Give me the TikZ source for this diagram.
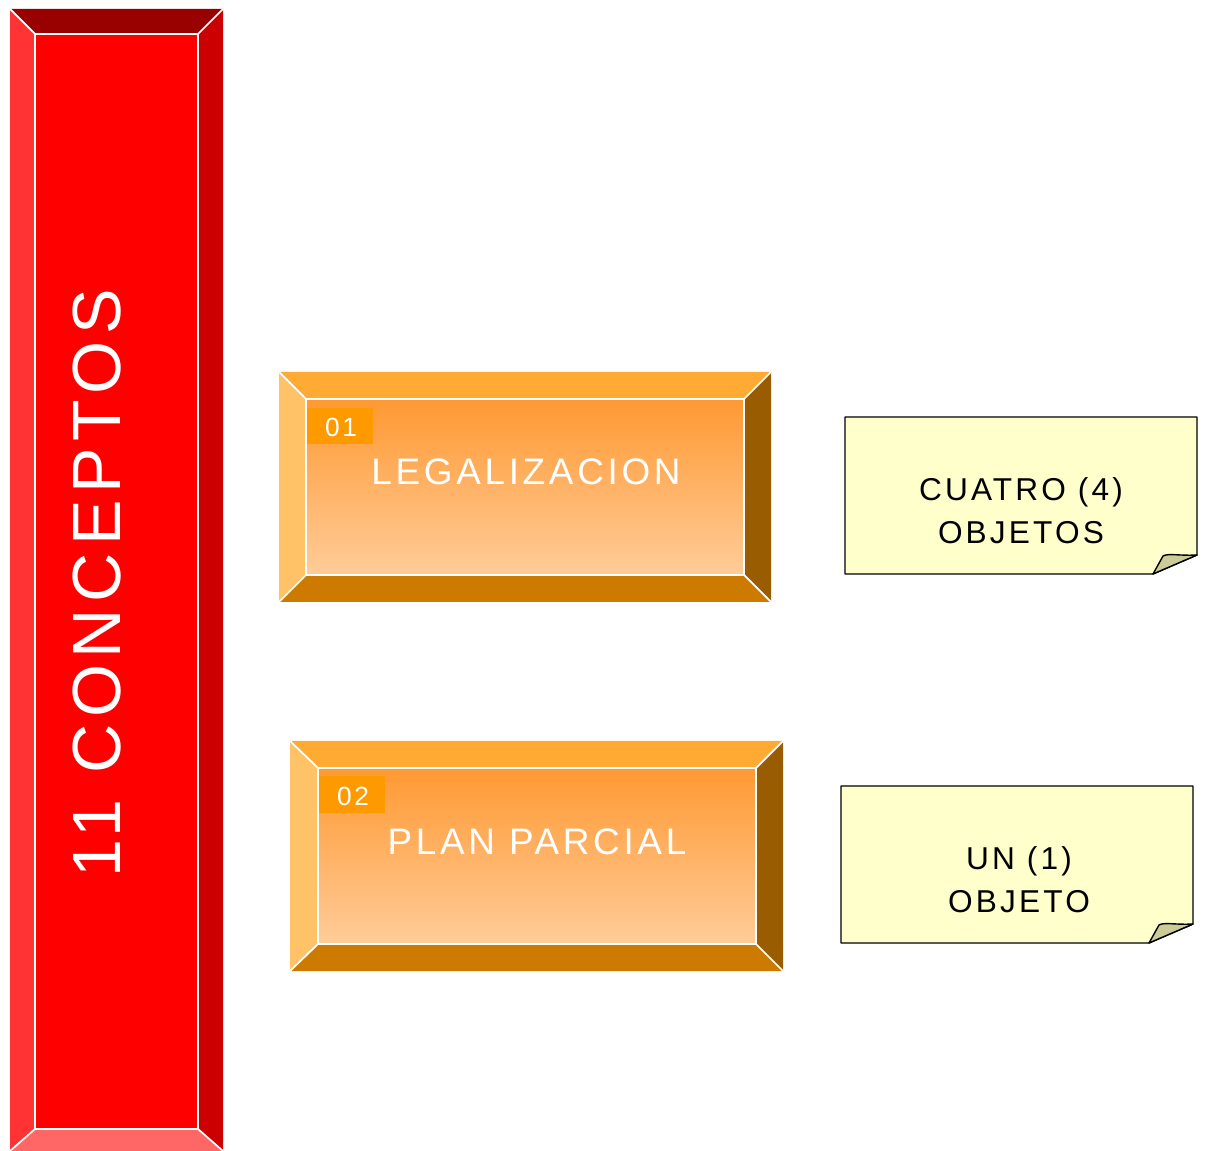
\documentclass[tikz,border=0pt]{standalone}
\usepackage{fontspec}
\setmainfont{Liberation Sans}[LetterSpace=10]

\definecolor{rojo}{HTML}{FF0000}
\definecolor{rojoarriba}{HTML}{990000}
\definecolor{rojoizq}{HTML}{FF3333}
\definecolor{rojoder}{HTML}{CC0000}
\definecolor{rojoabajo}{HTML}{FF6666}
\definecolor{naranjaarriba}{HTML}{FFAA33}
\definecolor{naranjaizq}{HTML}{FFC266}
\definecolor{naranjader}{HTML}{995C00}
\definecolor{naranjaabajo}{HTML}{CC7A00}
\definecolor{naranjaoscuro}{HTML}{FF9933}
\definecolor{naranjaclaro}{HTML}{FFCC99}
\definecolor{etiqueta}{HTML}{FF9900}
\definecolor{nota}{HTML}{FFFFCC}
\definecolor{doblez}{HTML}{CCCC99}

\tikzset{
	arista/.style={draw=white, line width=1pt},
	titulo/.style={text=white, inner sep=0pt, font=\fontsize{21}{25}\selectfont},
	numero/.style={text=white, inner sep=0pt, font=\fontsize{15}{18}\selectfont},
	hoja/.style={fill=nota, draw=black, line width=0.8pt, line join=round},
	textonota/.style={align=center, inner sep=0pt, font=\fontsize{18}{24.4}\selectfont}
}

\begin{document}
\begin{tikzpicture}[x=0.02cm, y=-0.02cm]
	
	\useasboundingbox (0,0) rectangle (1207,1151);
	
	% Barra de conceptos
	\fill[rojoarriba] (10,9) -- (223,9) -- (198,34) -- (35,34) -- cycle;
	\fill[rojoizq] (10,9) -- (35,34) -- (35,1129) -- (10,1151) -- cycle;
	\fill[rojoder] (223,9) -- (198,34) -- (198,1129) -- (223,1151) -- cycle;
	\fill[rojoabajo] (10,1151) -- (35,1129) -- (198,1129) -- (223,1151) -- cycle;
	\fill[rojo] (35,34) rectangle (198,1129);
	\draw[arista] (35,34) rectangle (198,1129);
	\draw[arista] (10,9) -- (35,34) (223,9) -- (198,34) (10,1151) -- (35,1129) (223,1151) -- (198,1129);
	
	\node[rotate=90, text=white, inner sep=0pt, font=\fontsize{38.8}{40}\selectfont] (conceptos) at (97,583) {11 CONCEPTOS};
	
	
	% Legalizacion
	\fill[naranjaarriba] (279,372) -- (771,372) -- (744,399) -- (306,399) -- cycle;
	\fill[naranjaizq] (279,372) -- (306,399) -- (306,575) -- (279,602) -- cycle;
	\fill[naranjader] (771,372) -- (744,399) -- (744,575) -- (771,602) -- cycle;
	\fill[naranjaabajo] (279,602) -- (306,575) -- (744,575) -- (771,602) -- cycle;
	\shade[top color=naranjaoscuro, bottom color=naranjaclaro] (306,399) rectangle (744,575);
	\draw[arista] (306,399) rectangle (744,575);
	\draw[arista] (279,372) -- (306,399) (771,372) -- (744,399) (279,602) -- (306,575) (771,602) -- (744,575);
	
	\fill[etiqueta] (307,408) rectangle (373,444);
	\node[numero] (num1) at (341,427) {01};
	\node[titulo] (legalizacion) at (526,472) {LEGALIZACION};
	
	
	% Plan parcial
	\fill[naranjaarriba] (290,741) -- (783,741) -- (756,768) -- (318,768) -- cycle;
	\fill[naranjaizq] (290,741) -- (318,768) -- (318,944) -- (290,971) -- cycle;
	\fill[naranjader] (783,741) -- (756,768) -- (756,944) -- (783,971) -- cycle;
	\fill[naranjaabajo] (290,971) -- (318,944) -- (756,944) -- (783,971) -- cycle;
	\shade[top color=naranjaoscuro, bottom color=naranjaclaro] (318,768) rectangle (756,944);
	\draw[arista] (318,768) rectangle (756,944);
	\draw[arista] (290,741) -- (318,768) (783,741) -- (756,768) (290,971) -- (318,944) (783,971) -- (756,944);
	
	\fill[etiqueta] (319,776) rectangle (385,813);
	\node[numero] (num2) at (353,796) {02};
	\node[titulo] (plan) at (537,842) {PLAN PARCIAL};
	
	
	% Notas
	\draw[hoja] (845,417) -- (1197,417) -- (1197,555) -- (1153,574) -- (845,574) -- cycle;
	\draw[hoja, fill=doblez] (1153,574) -- (1163,556) .. controls (1168,553) and (1180,556) .. (1197,555) -- cycle;
	\node[textonota] (cuatro) at (1021,511) {CUATRO (4)\\OBJETOS};
	
	\draw[hoja] (841,786) -- (1193,786) -- (1193,924) -- (1149,943) -- (841,943) -- cycle;
	\draw[hoja, fill=doblez] (1149,943) -- (1159,925) .. controls (1164,922) and (1176,925) .. (1193,924) -- cycle;
	\node[textonota] (uno) at (1019,880) {UN (1)\\OBJETO};
	
\end{tikzpicture}
\end{document}
